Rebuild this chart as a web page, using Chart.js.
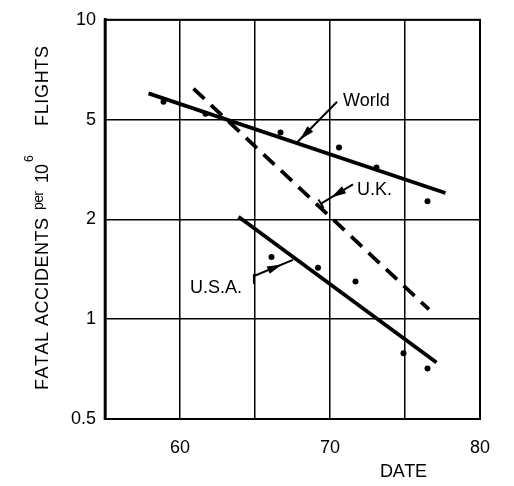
<!DOCTYPE html>
<html>
<head>
<meta charset="utf-8">
<script src="https://cdn.jsdelivr.net/npm/chart.js@4/dist/chart.umd.min.js"></script>
<style>
  html, body { margin: 0; padding: 0; background: #fff; }
  canvas { display: block; }
</style>
</head>
<body>
<canvas id="chart" width="514" height="486"></canvas>
<script>
const FONT = "'Liberation Sans', Arial, Helvetica, sans-serif";

// Rate axis: 1-2-5 steps, drawn equally spaced
const rateTicks = [0.5, 1, 2, 5, 10];
const rateTickLabels = ['0.5', '1', '2', '5', '10'];
// Date axis
const yearTicks = [55, 60, 65, 70, 75, 80];
const yearTickLabels = ['', '60', '', '70', '', '80'];

// Observed accident rates
const worldYears = [58.9, 61.7, 66.7, 70.6, 73.1, 76.5];
const worldRates = [5.66, 5.21, 4.44, 3.87, 3.22, 2.36];
const usaYears = [66.1, 69.2, 71.7, 74.9, 76.5];
const usaRates = [1.54, 1.43, 1.30, 0.79, 0.71];

// Trend lines (start and end)
const worldTrendYears = [57.9, 77.7];
const worldTrendRates = [6.0, 2.55];
const ukTrendYears = [60.9, 76.6];
const ukTrendRates = [6.2, 1.07];
const usaTrendYears = [63.9, 77.1];
const usaTrendRates = [2.05, 0.74];

// Callout labels: text, anchor (year, rate), alignment, arrow from/to, head position along the arrow
const callouts = [
  { text: 'World',  x: 70.87, y: 5.70, align: 'left',
    from: [70.47, 5.66], to: [67.8, 4.05], head: 0.93, endTick: false },
  { text: 'U.K.',   x: 71.8,  y: 2.61, align: 'left',
    from: [71.53, 2.76], to: [69.4, 2.31], head: 0.68, endTick: true },
  { text: 'U.S.A.', x: 64.13, y: 1.24, align: 'right',
    from: [64.93, 1.35], to: [67.53, 1.51], head: 0.72, endTick: false, tailTick: true }
];

const pts = (xs, ys) => xs.map((x, i) => ({ x: x, y: ys[i] }));

// Position of a rate on the evenly spaced 1-2-5 ladder
function rateToLevel(v) {
  const t = rateTicks;
  if (v <= t[0]) return Math.log(v / t[0]) / Math.log(t[1] / t[0]);
  for (let i = 0; i < t.length - 1; i++) {
    if (v <= t[i + 1]) return i + Math.log(v / t[i]) / Math.log(t[i + 1] / t[i]);
  }
  const n = t.length - 1;
  return n + Math.log(v / t[n]) / Math.log(t[n] / t[n - 1]);
}
function levelToRate(l) {
  const t = rateTicks;
  const i = Math.max(0, Math.min(t.length - 2, Math.floor(l)));
  return t[i] * Math.pow(t[i + 1] / t[i], l - i);
}

class StepLogScale extends Chart.LinearScale {
  determineDataLimits() {
    this.min = 0;
    this.max = rateTicks.length - 1;
  }
  buildTicks() {
    return rateTicks.map(v => ({ value: v }));
  }
  getPixelForValue(v) {
    if (v === null || v === undefined || isNaN(v)) return NaN;
    return this.getPixelForDecimal((rateToLevel(v) - this._startValue) / this._valueRange);
  }
  getValueForPixel(p) {
    return levelToRate(this._startValue + this.getDecimalForPixel(p) * this._valueRange);
  }
}
StepLogScale.id = 'steplog';
StepLogScale.defaults = Chart.LinearScale.defaults;
Chart.register(StepLogScale);

// Draws text character by character so it spans a given width
function spacedText(ctx, text, x, y, width) {
  const ws = [...text].map(c => ctx.measureText(c).width);
  const natural = ws.reduce((a, b) => a + b, 0);
  const gap = text.length > 1 ? (width - natural) / (text.length - 1) : 0;
  let cx = x;
  [...text].forEach((c, i) => { ctx.fillText(c, cx, y); cx += ws[i] + gap; });
}

const framePlugin = {
  id: 'frame',
  afterDatasetsDraw(chart) {
    const { ctx, chartArea: a, scales } = chart;
    const xs = scales.x, ys = scales.y;
    ctx.save();
    ctx.strokeStyle = '#000';
    ctx.lineWidth = 2;
    ctx.strokeRect(a.left, a.top, a.right - a.left, a.bottom - a.top);
    ctx.lineWidth = 2.6;
    ctx.beginPath(); ctx.moveTo(a.left, a.top - 1); ctx.lineTo(a.left, a.bottom + 1); ctx.stroke();

    // callouts
    ctx.fillStyle = '#000';
    ctx.font = '18px ' + FONT;
    ctx.textBaseline = 'middle';
    callouts.forEach(c => {
      ctx.textAlign = c.align;
      ctx.fillText(c.text, xs.getPixelForValue(c.x), ys.getPixelForValue(c.y));
      const x1 = xs.getPixelForValue(c.from[0]), y1 = ys.getPixelForValue(c.from[1]);
      const x2 = xs.getPixelForValue(c.to[0]), y2 = ys.getPixelForValue(c.to[1]);
      ctx.lineWidth = 2;
      ctx.beginPath(); ctx.moveTo(x1, y1); ctx.lineTo(x2, y2); ctx.stroke();
      const dx = x2 - x1, dy = y2 - y1, len = Math.hypot(dx, dy);
      const ux = dx / len, uy = dy / len;
      const tx = x1 + dx * c.head, ty = y1 + dy * c.head;
      const hl = 15, hw = 4;
      ctx.beginPath();
      ctx.moveTo(tx, ty);
      ctx.lineTo(tx - ux * hl - uy * hw, ty - uy * hl + ux * hw);
      ctx.lineTo(tx - ux * hl + uy * hw, ty - uy * hl - ux * hw);
      ctx.closePath();
      ctx.fill();
      if (c.endTick) {
        ctx.beginPath();
        ctx.moveTo(x2 - uy * 5, y2 + ux * 5);
        ctx.lineTo(x2 + uy * 5, y2 - ux * 5);
        ctx.stroke();
      }
      if (c.tailTick) {
        ctx.beginPath();
        ctx.moveTo(x1, y1 - 2);
        ctx.lineTo(x1, y1 + 8);
        ctx.stroke();
      }
    });

    // axis titles
    ctx.textAlign = 'left';
    ctx.textBaseline = 'alphabetic';
    ctx.font = '18px ' + FONT;
    spacedText(ctx, 'DATE', 380, 477, 47);

    ctx.translate(48, 390);
    ctx.rotate(-Math.PI / 2);
    ctx.font = '18px ' + FONT;
    spacedText(ctx, 'FATAL ACCIDENTS', 0, 0, 172);
    ctx.font = '14px ' + FONT;
    spacedText(ctx, 'per', 180, -5, 19);
    ctx.font = '18px ' + FONT;
    spacedText(ctx, '10', 207, 0, 19);
    ctx.font = '12px ' + FONT;
    ctx.fillText('6', 228, -15);
    ctx.font = '18px ' + FONT;
    spacedText(ctx, 'FLIGHTS', 264, 0, 80);
    ctx.restore();
  }
};

const pointStyle = { showLine: false, pointRadius: 3, pointBackgroundColor: '#000', pointBorderWidth: 0 };
const trendStyle = { showLine: true, pointRadius: 0, borderColor: '#000', borderWidth: 3.8, borderCapStyle: 'butt' };

new Chart(document.getElementById('chart'), {
  type: 'scatter',
  data: {
    datasets: [
      Object.assign({ label: 'World', data: pts(worldYears, worldRates) }, pointStyle),
      Object.assign({ label: 'U.S.A.', data: pts(usaYears, usaRates) }, pointStyle),
      Object.assign({ label: 'World trend', data: pts(worldTrendYears, worldTrendRates) }, trendStyle),
      Object.assign({ label: 'U.K. trend', data: pts(ukTrendYears, ukTrendRates), borderDash: [15, 9] }, trendStyle),
      Object.assign({ label: 'U.S.A. trend', data: pts(usaTrendYears, usaTrendRates) }, trendStyle)
    ]
  },
  options: {
    responsive: false,
    animation: false,
    events: [],
    layout: { padding: { top: 19, right: 34, left: 0, bottom: 0 } },
    plugins: { legend: { display: false }, tooltip: { enabled: false } },
    scales: {
      x: {
        type: 'linear', min: 55, max: 80,
        afterBuildTicks: s => { s.ticks = yearTicks.map(v => ({ value: v })); },
        afterFit: s => { s.height = 67; },
        ticks: {
          callback: (v, i) => yearTickLabels[i],
          autoSkip: false, maxRotation: 0, padding: 18,
          color: '#000', font: { family: FONT, size: 18 }
        },
        grid: { color: '#000', lineWidth: 1.5, drawTicks: false },
        border: { display: true, color: '#000', width: 2 }
      },
      y: {
        type: 'steplog',
        afterFit: s => { s.width = 105; },
        ticks: {
          callback: (v, i) => rateTickLabels[i],
          autoSkip: false, padding: 9,
          color: '#000', font: { family: FONT, size: 18 }
        },
        grid: { color: '#000', lineWidth: 1.5, drawTicks: false },
        border: { display: true, color: '#000', width: 2.6 }
      }
    }
  },
  plugins: [framePlugin]
});
</script>
</body>
</html>
